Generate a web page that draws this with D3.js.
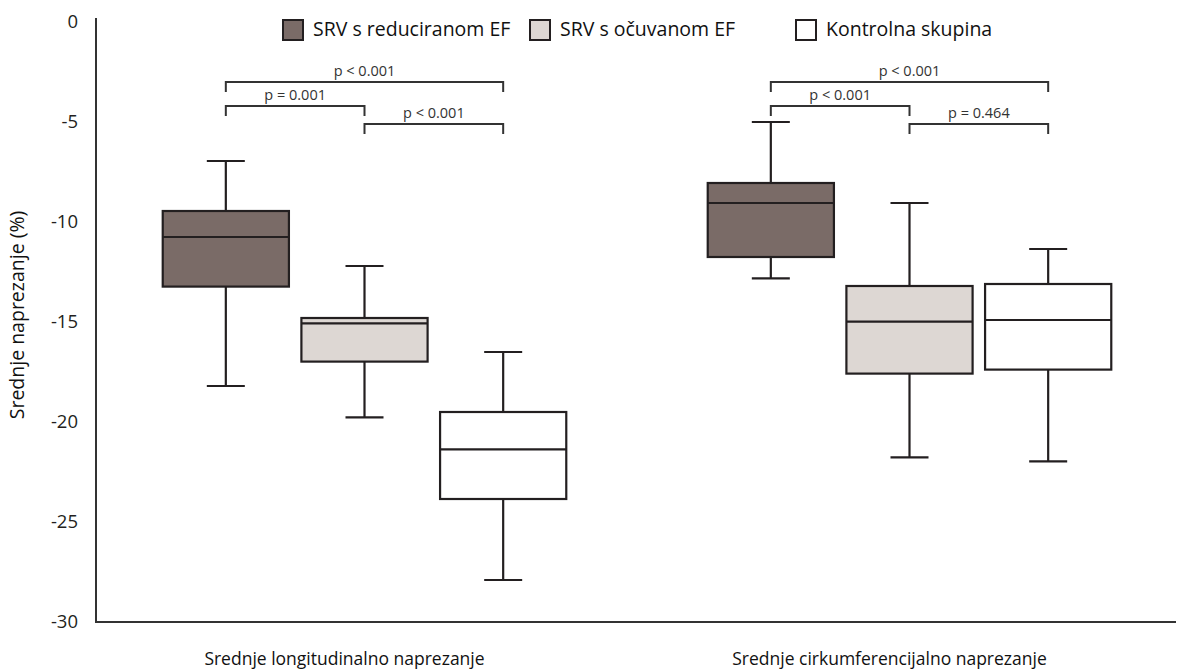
<!DOCTYPE html>
<html>
<head>
<meta charset="utf-8">
<title>Srednje naprezanje</title>
<script src="https://d3js.org/d3.v7.min.js"></script>
<style>
  body { margin: 0; background: #fff; }
  svg { display: block; font-family: "Open Sans", "Noto Sans", sans-serif; }
</style>
</head>
<body>
<script>
// categories and series
var groups = ["Srednje longitudinalno naprezanje", "Srednje cirkumferencijalno naprezanje"];
var series = ["SRV s reduciranom EF", "SRV s očuvanom EF", "Kontrolna skupina"];
var colors = ["#7a6b67", "#ddd7d3", "#ffffff"];

// box plot values per group, in series order
var whiskerHigh = [[-6.95, -12.2, -16.5], [-5.0, -9.05, -11.35]];
var q3          = [[-9.45, -14.8, -19.5], [-8.05, -13.2, -13.1]];
var median      = [[-10.75, -15.07, -21.37], [-9.05, -14.98, -14.9]];
var q1          = [[-13.23, -16.98, -23.85], [-11.75, -17.58, -17.38]];
var whiskerLow  = [[-18.2, -19.77, -27.9], [-12.82, -21.77, -21.97]];

// y ticks
var yTicks = [0, -5, -10, -15, -20, -25, -30];

// significance brackets: [from series, to series, p label] per group, top to bottom
var pFrom   = [[0, 0, 1], [0, 0, 1]];
var pTo     = [[2, 1, 2], [2, 1, 2]];
var pLabels = [["p < 0.001", "p = 0.001", "p < 0.001"], ["p < 0.001", "p < 0.001", "p = 0.464"]];
var pLevel  = [-3.0, -4.2, -5.1];

var width = 1180, height = 670;
var ink = "#231f20";

var svg = d3.select("body").append("svg")
    .attr("width", width)
    .attr("height", height);

var y = d3.scaleLinear().domain([0, -30]).range([22, 622]);

var x0 = d3.scaleBand().domain(groups).range([92, 1182]);
var x1 = d3.scaleBand().domain(series).range([0, x0.bandwidth()])
    .paddingInner(0.09).paddingOuter(0.51);

// axes
var axisX = 96;
var yAxis = svg.append("g")
    .attr("transform", "translate(" + axisX + ",0)")
    .call(d3.axisLeft(y).tickValues(yTicks).tickSize(0).tickPadding(18)
      .tickFormat(function(d) { return String(d); }));
yAxis.select(".domain").remove();
yAxis.selectAll("text")
    .attr("font-size", 18.5)
    .attr("font-family", "Open Sans, sans-serif")
    .attr("fill", ink);

svg.append("line")
    .attr("x1", axisX).attr("x2", axisX)
    .attr("y1", 18).attr("y2", y(-30))
    .attr("stroke", "#333").attr("stroke-width", 2);
svg.append("line")
    .attr("x1", axisX - 1).attr("x2", 1176)
    .attr("y1", y(-30)).attr("y2", y(-30))
    .attr("stroke", "#333").attr("stroke-width", 2);

svg.append("text")
    .attr("transform", "translate(24," + 315 + ") rotate(-90)")
    .attr("text-anchor", "middle")
    .attr("font-size", 19.5)
    .attr("fill", "#111")
    .text("Srednje naprezanje (%)");

// group labels
svg.selectAll(".glabel").data(groups).join("text")
    .attr("class", "glabel")
    .attr("x", function(d) { return x0(d) + x0.bandwidth() / 2 - 20; })
    .attr("y", 665)
    .attr("text-anchor", "middle")
    .attr("font-size", 17.5)
    .attr("fill", "#111")
    .text(function(d) { return d; });

// boxes
var capW = 38;
groups.forEach(function(g, gi) {
  var gEl = svg.append("g").attr("transform", "translate(" + x0(g) + ",0)");
  series.forEach(function(s, si) {
    var cx = x1(s) + x1.bandwidth() / 2;
    var b = gEl.append("g").attr("stroke", ink).attr("stroke-width", 2.2);
    // whisker lines
    b.append("line").attr("x1", cx).attr("x2", cx)
        .attr("y1", y(whiskerHigh[gi][si])).attr("y2", y(q3[gi][si]));
    b.append("line").attr("x1", cx).attr("x2", cx)
        .attr("y1", y(q1[gi][si])).attr("y2", y(whiskerLow[gi][si]));
    // caps
    [whiskerHigh[gi][si], whiskerLow[gi][si]].forEach(function(v) {
      b.append("line").attr("x1", cx - capW / 2).attr("x2", cx + capW / 2)
          .attr("y1", y(v)).attr("y2", y(v));
    });
    // box
    b.append("rect")
        .attr("x", x1(s))
        .attr("y", y(q3[gi][si]))
        .attr("width", x1.bandwidth())
        .attr("height", y(q1[gi][si]) - y(q3[gi][si]))
        .attr("fill", colors[si]);
    b.append("line")
        .attr("x1", x1(s)).attr("x2", x1(s) + x1.bandwidth())
        .attr("y1", y(median[gi][si])).attr("y2", y(median[gi][si]));
  });

  // p-value brackets
  pLabels[gi].forEach(function(lab, k) {
    var xa = x1(series[pFrom[gi][k]]) + x1.bandwidth() / 2;
    var xb = x1(series[pTo[gi][k]]) + x1.bandwidth() / 2;
    var yy = y(pLevel[k]);
    gEl.append("path")
        .attr("d", "M" + xa + "," + (yy + 10) + "V" + yy + "H" + xb + "V" + (yy + 10))
        .attr("fill", "none")
        .attr("stroke", "#333")
        .attr("stroke-width", 2);
    gEl.append("text")
        .attr("x", (xa + xb) / 2)
        .attr("y", yy - 6)
        .attr("text-anchor", "middle")
        .attr("font-size", 14.5)
        .attr("fill", "#333")
        .text(lab);
  });
});

// legend
var legendX = [282, 529, 795];
var legend = svg.selectAll(".leg").data(series).join("g")
    .attr("class", "leg")
    .attr("transform", function(d, i) { return "translate(" + legendX[i] + ",19)"; });
legend.append("rect")
    .attr("x", 1).attr("y", 1)
    .attr("width", 20).attr("height", 20)
    .attr("fill", function(d, i) { return colors[i]; })
    .attr("stroke", ink).attr("stroke-width", 2);
legend.append("text")
    .attr("x", 31).attr("y", 17)
    .attr("font-size", 19.5)
    .attr("fill", "#111")
    .text(function(d) { return d; });
</script>
</body>
</html>
